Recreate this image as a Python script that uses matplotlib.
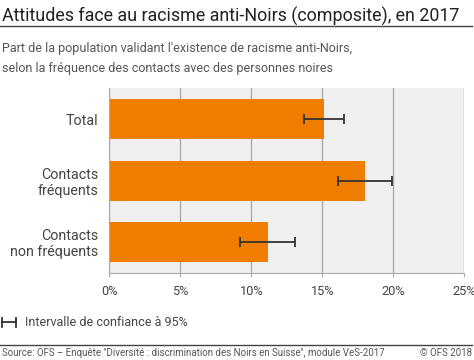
import matplotlib.pyplot as plt
from matplotlib.lines import Line2D

plt.rcParams['font.family'] = ['Roboto', 'DejaVu Sans']

# Data
categories = ['Total', 'Contacts\nfréquents', 'Contacts\nnon fréquents']
values = [15.1, 18.0, 11.2]
ci_low = [13.7, 16.1, 9.2]
ci_high = [16.5, 19.9, 13.1]
xticks = [0, 5, 10, 15, 20, 25]

ORANGE = '#f07c00'
GRID = '#aaaaaa'
BG = '#f0f0f0'

fig = plt.figure(figsize=(4.74, 3.6), dpi=100)
fig.patch.set_facecolor('white')

ax = fig.add_axes([0.231, 0.2425, 0.7485, 0.512])
ax.set_facecolor(BG)

ypos = list(range(len(categories)))
xerr = [[v - lo for v, lo in zip(values, ci_low)],
        [hi - v for v, hi in zip(values, ci_high)]]
ax.barh(ypos, values, height=0.65, color=ORANGE, zorder=2)
ax.errorbar(values, ypos, xerr=xerr, fmt='none', ecolor='#333333',
            elinewidth=1.3, capsize=3.5, capthick=1.3, zorder=3)

ax.set_xlim(0, 25)
ax.set_ylim(2.5, -0.5)
ax.set_xticks(xticks)
ax.set_xticklabels([f'{t}%' for t in xticks], fontsize=9.2, color='#444444')
ax.set_yticks(ypos)
ax.set_yticklabels(categories, fontsize=10.3, color='#444444', linespacing=1.15)
ax.tick_params(axis='y', length=0, pad=8)
ax.tick_params(axis='x', length=3, color=GRID, pad=6)
ax.xaxis.grid(True, color=GRID, linewidth=1, zorder=1)
ax.set_axisbelow(True)
for side in ['top', 'right']:
    ax.spines[side].set_visible(False)
ax.spines['left'].set_color(GRID)
ax.spines['bottom'].set_color(GRID)

# Title and subtitle
fig.text(0.004, 0.955, 'Attitudes face au racisme anti-Noirs (composite), en 2017',
         fontsize=12.9, color='#222222', va='center')
fig.add_artist(Line2D([0, 0.995], [0.928, 0.928], color='#444444', linewidth=1))
fig.text(0.004, 0.865, "Part de la population validant l'existence de racisme anti-Noirs,",
         fontsize=9, color='#555555', va='center')
fig.text(0.004, 0.81, 'selon la fréquence des contacts avec des personnes noires',
         fontsize=9, color='#555555', va='center')

# Legend for confidence interval
fig.add_artist(Line2D([0.004, 0.033], [0.105, 0.105], color='#333333', linewidth=1.3))
fig.add_artist(Line2D([0.004, 0.004], [0.092, 0.118], color='#333333', linewidth=1.3))
fig.add_artist(Line2D([0.033, 0.033], [0.092, 0.118], color='#333333', linewidth=1.3))
fig.text(0.053, 0.105, 'Intervalle de confiance à 95%', fontsize=9,
         color='#444444', va='center')

# Footer
fig.add_artist(Line2D([0, 0.995], [0.042, 0.042], color='#444444', linewidth=1))
fig.text(0.004, 0.019, 'Source: OFS – Enquête "Diversité : discrimination des Noirs en Suisse", module VeS-2017',
         fontsize=7, color='#555555', va='center')
fig.text(0.995, 0.019, '© OFS 2018', fontsize=7, color='#555555', va='center', ha='right')

fig.savefig('out.png', dpi=100, facecolor='white')
